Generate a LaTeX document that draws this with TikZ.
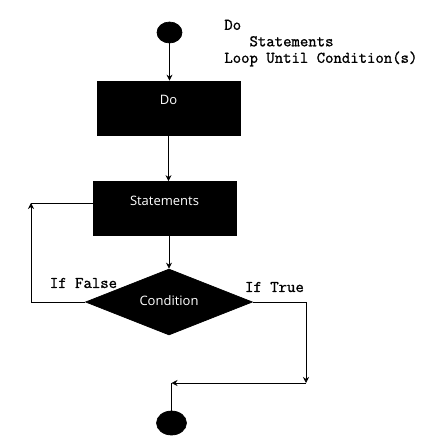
\documentclass[tikz,border=0pt]{standalone}
\usepackage{fontspec}
\setmainfont{Open Sans}
\newfontfamily\codefont[FakeBold=1.2]{Latin Modern Mono}
\usetikzlibrary{shapes.geometric,arrows.meta}

\tikzset{
    blockbox/.style={draw=black, fill=black, text=white, inner sep=0pt,
        text width=143pt, align=center, text height=24pt, text depth=30pt,
        font=\fontsize{13}{15}\selectfont},
    decision/.style={diamond, draw=black, fill=black, text=white, inner sep=0pt,
        aspect=2.5, minimum width=167pt, minimum height=66pt,
        font=\fontsize{13}{15}\selectfont},
    terminal/.style={ellipse, draw=black, fill=black, inner sep=0pt},
    codetext/.style={inner sep=0pt, align=left,
        font=\codefont\fontsize{16.3}{16.5}\selectfont}
}

\begin{document}
\begin{tikzpicture}[x=1pt,y=-1pt, >={Stealth[length=6pt,width=6pt]}, line width=0.7pt]
    \fill[white] (0,0) rectangle (429,446);
    \useasboundingbox (0,0) rectangle (429,446);

    \node[terminal, minimum width=25pt, minimum height=21pt](start) at (169.5,32.5) {};
    \node[blockbox](do) at (168.5,108) {Do};
    \node[blockbox](stmt) at (164.5,208.5) {Statements};
    \node[decision](cond) at (169,302) {\raisebox{2pt}{Condition}};
    \node[terminal, minimum width=30pt, minimum height=24pt](stop) at (171.5,423) {};

    \node[codetext, anchor=north west](code) at (224,19.5) {Do\\\hphantom{Do }Statements\\Loop Until Condition(s)};
    \node[codetext](iffalse) at (83.5,283) {If False};
    \node[codetext](iftrue) at (274.5,287) {If True};

    \coordinate(loopup) at (31,203);
    \coordinate(truedown) at (306,383);
    \coordinate(join) at (171.5,383);

    \draw[->](start.south)--(start.south |- do.north);
    \draw[->](do.south)--(do.south |- stmt.north);
    \draw[->](stmt.south -| cond.north)--(cond.north);
    \draw[->](cond.west) -| (loopup);
    \draw(loopup)--(stmt.west |- loopup);
    \draw[->](cond.east) -| (truedown);
    \draw[->](truedown)--(join);
    \draw(join)--(stop.north);
\end{tikzpicture}
\end{document}
